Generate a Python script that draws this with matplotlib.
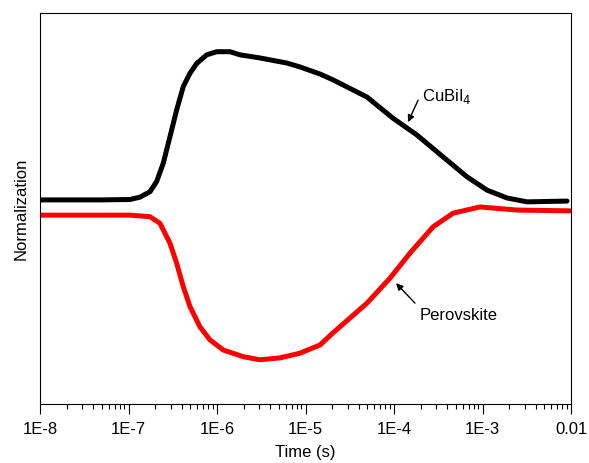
import numpy as np
import matplotlib
matplotlib.use("Agg")
import matplotlib.pyplot as plt
from matplotlib.ticker import LogLocator, FixedLocator, FixedFormatter, NullFormatter

plt.rcParams['font.family'] = ['Liberation Sans', 'DejaVu Sans']

# CuBiI4 trace (log10 time in s, normalized signal)
cubii4_logt = [-8.000, -7.322, -6.983, -6.870, -6.757, -6.682, -6.607, -6.531, -6.456,
               -6.381, -6.305, -6.229, -6.116, -6.003, -5.853, -5.740, -5.514, -5.209,
               -5.062, -4.836, -4.689, -4.305, -4.012, -3.741, -3.446, -3.175, -2.949,
               -2.724, -2.497, -2.045]
cubii4_y = [0.522, 0.522, 0.523, 0.529, 0.543, 0.569, 0.616, 0.684, 0.752,
            0.812, 0.846, 0.871, 0.893, 0.901, 0.901, 0.893, 0.885, 0.872,
            0.862, 0.844, 0.829, 0.785, 0.731, 0.688, 0.632, 0.581, 0.547,
            0.527, 0.517, 0.519]

# Perovskite trace
perov_logt = [-8.000, -6.983, -6.757, -6.644, -6.531, -6.456, -6.381, -6.305, -6.192,
              -6.079, -5.929, -5.703, -5.514, -5.288, -5.062, -4.836, -4.689, -4.305,
              -4.045, -3.819, -3.559, -3.333, -3.028, -2.610, -2.011]
perov_y = [0.483, 0.483, 0.479, 0.462, 0.411, 0.360, 0.300, 0.249, 0.197,
           0.164, 0.138, 0.121, 0.113, 0.118, 0.130, 0.151, 0.182, 0.258,
           0.322, 0.386, 0.453, 0.488, 0.504, 0.496, 0.494]

tick_vals = [1e-8, 1e-7, 1e-6, 1e-5, 1e-4, 1e-3, 1e-2]
tick_labels = ['1E-8', '1E-7', '1E-6', '1E-5', '1E-4', '1E-3', '0.01']

fig = plt.figure(figsize=(5.89, 4.63), dpi=100)
ax = fig.add_axes([40/589, 59/463, 531/589, 391/463])

ax.plot(10**np.array(cubii4_logt), cubii4_y, color='black', lw=3.6,
        solid_joinstyle='round', solid_capstyle='round')
ax.plot(10**np.array(perov_logt), perov_y, color='#ff0000', lw=3.6,
        solid_joinstyle='round', solid_capstyle='round')

ax.set_xscale('log')
ax.set_xlim(1e-8, 1e-2)
ax.set_ylim(0, 1)

ax.xaxis.set_major_locator(FixedLocator(tick_vals))
ax.xaxis.set_major_formatter(FixedFormatter(tick_labels))
ax.xaxis.set_minor_locator(LogLocator(base=10, subs=np.arange(2, 10), numticks=20))
ax.xaxis.set_minor_formatter(NullFormatter())
ax.tick_params(axis='x', which='major', direction='out', length=7, width=0.8,
               labelsize=12, pad=6, top=False)
ax.tick_params(axis='x', which='minor', direction='out', length=3.5, width=0.8, top=False)
ax.set_yticks([])
for s in ax.spines.values():
    s.set_linewidth(0.8)

ax.set_xlabel('Time (s)', fontsize=12, labelpad=6)
ax.set_ylabel('Normalization', fontsize=12, labelpad=8)

arrow = dict(arrowstyle='-|>', color='black', lw=1.0, mutation_scale=10, shrinkA=0, shrinkB=0)
ax.annotate('', xy=(10**-3.841, 0.721), xytext=(10**-3.728, 0.777), arrowprops=arrow)
ax.text(10**-3.683, 0.775, 'CuBiI$_4$', fontsize=12, ha='left', va='baseline')
ax.annotate('', xy=(10**-3.977, 0.309), xytext=(10**-3.763, 0.258), arrowprops=arrow)
ax.text(10**-3.706, 0.215, 'Perovskite', fontsize=12, ha='left', va='baseline')

fig.savefig('out.png', dpi=100)
